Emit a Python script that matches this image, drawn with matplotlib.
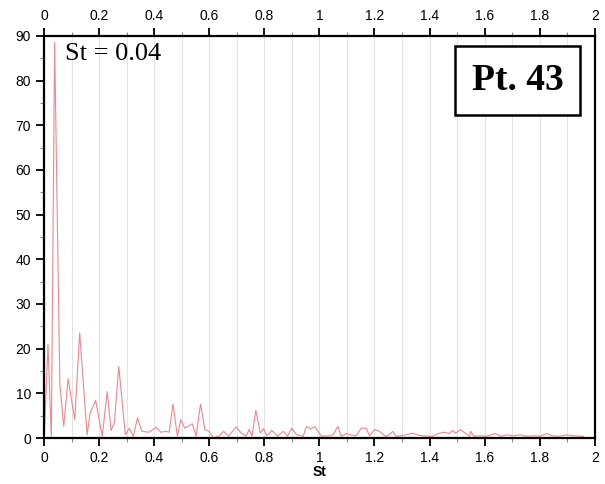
import matplotlib.pyplot as plt
from matplotlib.ticker import MultipleLocator

# spectrum
st = [0.0, 0.014, 0.026, 0.038, 0.057, 0.071, 0.087, 0.111, 0.129, 0.156,
      0.167, 0.187, 0.211, 0.229, 0.243, 0.255, 0.271, 0.295, 0.309, 0.324,
      0.339, 0.355, 0.381, 0.406, 0.424, 0.442, 0.454, 0.468, 0.484, 0.496,
      0.511, 0.538, 0.552, 0.568, 0.584, 0.598, 0.616, 0.634, 0.652, 0.670,
      0.697, 0.716, 0.733, 0.745, 0.755, 0.769, 0.785, 0.797, 0.809, 0.827,
      0.848, 0.869, 0.884, 0.899, 0.917, 0.941, 0.953, 0.968, 0.983, 1.007,
      1.037, 1.049, 1.067, 1.079, 1.097, 1.115, 1.133, 1.152, 1.170, 1.182,
      1.200, 1.218, 1.239, 1.254, 1.266, 1.278, 1.296, 1.314, 1.338, 1.356,
      1.374, 1.398, 1.412, 1.430, 1.454, 1.472, 1.483, 1.495, 1.513, 1.531,
      1.546, 1.549, 1.561, 1.585, 1.609, 1.639, 1.657, 1.681, 1.705, 1.729,
      1.753, 1.777, 1.801, 1.826, 1.844, 1.874, 1.898, 1.922, 1.946, 1.96]
amp = [0.0, 20.9, 0.0, 88.5, 12.0, 2.6, 13.3, 4.1, 23.5, 0.7,
       5.6, 8.4, 0.4, 10.4, 1.7, 3.4, 16.0, 0.7, 2.2, 0.4,
       4.5, 1.5, 1.3, 2.4, 1.3, 1.5, 1.3, 7.6, 0.4, 4.1,
       2.2, 3.2, 0.4, 7.6, 1.9, 1.5, 0.0, 0.4, 1.5, 0.4,
       2.5, 1.1, 0.4, 1.9, 0.4, 6.2, 1.1, 2.1, 0.5, 1.7,
       0.4, 1.5, 0.4, 2.2, 0.7, 0.4, 2.6, 2.0, 2.6, 0.4,
       0.5, 0.7, 2.6, 0.4, 1.0, 0.7, 0.5, 2.2, 2.2, 0.5,
       1.9, 1.5, 0.4, 0.7, 1.5, 0.4, 0.5, 0.7, 1.1, 0.7,
       0.5, 0.4, 0.4, 1.0, 1.3, 1.0, 1.7, 1.1, 1.9, 1.0,
       0.4, 1.5, 0.4, 0.5, 0.4, 1.0, 0.4, 0.7, 0.5, 0.7,
       0.4, 0.5, 0.4, 1.0, 0.5, 0.4, 0.7, 0.5, 0.4, 0.4]

plt.rcParams['font.family'] = ['Liberation Sans', 'DejaVu Sans']

fig = plt.figure(figsize=(6.05, 4.84), dpi=100)
ax = fig.add_axes([0.073, 0.095, 0.910, 0.831])

ax.plot(st, amp, color='#ec8890', lw=0.8)

ax.set_xlim(0, 2)
ax.set_ylim(0, 90)
ax.xaxis.set_major_locator(MultipleLocator(0.2))
ax.xaxis.set_minor_locator(MultipleLocator(0.1))
ax.yaxis.set_major_locator(MultipleLocator(10))
ax.yaxis.set_minor_locator(MultipleLocator(5))
ax.xaxis.set_major_formatter(lambda v, p: '%g' % round(v, 1))

ax.grid(axis='x', which='both', color='#e4e4e4', lw=0.8)
ax.set_axisbelow(True)

ax.tick_params(which='both', top=True, labeltop=True, right=False,
               direction='out', labelsize=10, width=1.3)
ax.tick_params(which='major', length=6)
ax.tick_params(which='minor', length=3, width=0.8, color='#888888')
for s in ax.spines.values():
    s.set_linewidth(1.6)

ax.set_xlabel('St', fontsize=10, fontweight='bold', labelpad=0)

ax.text(0.075, 86, 'St = 0.04', family='Liberation Serif', fontsize=19,
        va='center')
ax.text(0.86, 0.888, 'Pt. 43', transform=ax.transAxes,
        family='Liberation Serif', fontsize=27, fontweight='bold',
        ha='center', va='center',
        bbox=dict(boxstyle='square,pad=0.45', fc='white', ec='black', lw=1.8))

fig.savefig('out.png', dpi=100)
